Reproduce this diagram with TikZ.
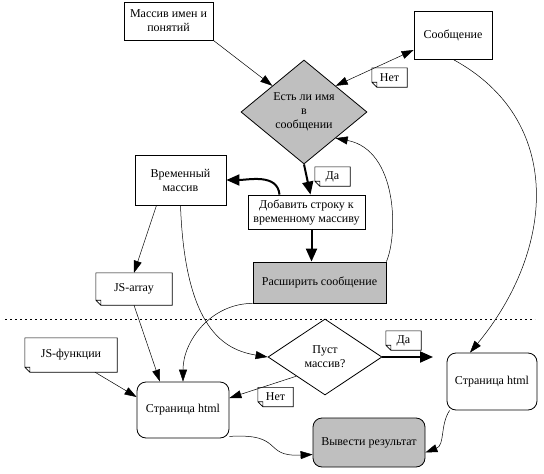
\documentclass[tikz,border=0pt]{standalone}
\usepackage{fontspec}
\setmainfont{Liberation Serif}
\newfontfamily\figserif{Liberation Serif}
\usetikzlibrary{arrows.meta, shapes.geometric, positioning}
\newcommand{\figfont}{\figserif\fontsize{12}{14}\selectfont}

\begin{document}
\begin{tikzpicture}[x=1pt, y=-1pt,
    box/.style={rectangle, draw, line width=0.8pt, fill=white, align=center, inner sep=2pt, font=\figfont},
    greybox/.style={box, fill=black!25},
    roundbox/.style={box, rounded corners=9pt},
    decision/.style={diamond, draw, line width=0.8pt, align=center, inner sep=0pt, font=\figfont},
    note/.style={rectangle, align=center, inner sep=1pt, font=\figfont, minimum width=35, minimum height=19},
    arrow/.style={-{Triangle[length=12pt, width=8pt]}, line width=0.5pt},
    dblarrow/.style={{Triangle[length=12pt, width=8pt]}-{Triangle[length=12pt, width=8pt]}, line width=0.5pt},
    thickarrow/.style={-{Triangle[length=13pt, width=11pt]}, line width=2pt}
]
    \useasboundingbox (0,0) rectangle (544,474);

    % upper part
    \node[box, minimum width=89, minimum height=38] (names) at (168.5,21) {Массив имен и\\понятий};
    \node[decision, fill=black!25, minimum width=126, minimum height=104] (hasname) at (304,112) {Есть ли имя\\в\\сообщении};
    \node[box, minimum width=78, minimum height=48] (msg) at (453,35) {Сообщение};
    \node[note] (no1) at (389.5,77.5) {Нет};
    \node[box, minimum width=91, minimum height=50] (tmp) at (180.5,180) {Временный\\массив};
    \node[note] (yes1) at (332.5,176.5) {Да};
    \node[box, minimum width=117, minimum height=34] (addrow) at (306.5,212) {Добавить строку к\\временному массиву};
    \node[greybox, minimum width=133, minimum height=41] (extend) at (319.5,282.5) {Расширить сообщение};
    \node[note, minimum width=76, minimum height=32] (jsarr) at (134,289) {JS-array};

    % lower part
    \coordinate (sepl) at (5,319);
    \coordinate (sepr) at (535,319);
    \draw[line width=0.6pt, dash pattern=on 2pt off 3pt] (sepl) -- (sepr);

    \node[note, minimum width=92, minimum height=34] (jsfun) at (71,355) {JS-функции};
    \node[roundbox, minimum width=92, minimum height=56] (page1) at (183,410) {Страница html};
    \node[decision, fill=white, minimum width=114, minimum height=76] (empty) at (325,357) {Пуст\\массив?};
    \node[note] (yes2) at (403.5,340.5) {Да};
    \node[note] (no2) at (275.5,397) {Нет};
    \node[roundbox, minimum width=90, minimum height=57] (page2) at (492,381.5) {Страница html};
    \node[roundbox, fill=black!25, minimum width=112, minimum height=49] (output) at (369,442.5) {Вывести результат};
    \coordinate (yesend) at (433,357);

    % folded notes
    \foreach \n in {no1, yes1, jsarr, jsfun, yes2, no2} {
        \draw[line width=0.6pt] ([yshift=5pt]\n.south west) -- (\n.north west) -- (\n.north east)
            -- (\n.south east) -- ([xshift=5pt]\n.south west) -- cycle
            ([yshift=5pt]\n.south west) -- ([shift={(5pt,5pt)}]\n.south west) -- ([xshift=5pt]\n.south west);
    }

    % connectors
    \draw[arrow] (names.south east) -- (hasname.north west);
    \draw[dblarrow] ([yshift=-15pt]msg.west) -- (hasname.north east);
    \draw[thickarrow] (hasname.south) -- ([xshift=4pt]addrow.north);
    \draw[thickarrow] ([xshift=-27pt]addrow.north) to[out=95, in=0] (tmp.east);
    \draw[thickarrow] ([xshift=5pt]addrow.south) -- ([xshift=5pt]addrow.south |- extend.north);
    \draw[arrow] (extend.north east) .. controls (398,235) and (398,150) .. (hasname.south east);
    \draw[arrow] ([xshift=-24pt]tmp.south) -- (jsarr.north);
    \draw[arrow] (tmp.south) .. controls (185,330) and (225,350) .. (empty.west);
    \draw[arrow] (jsarr.south) -- ([xshift=-23pt]page1.north);
    \draw[arrow] (extend.south west) to[out=180, in=90] (page1.north);
    \draw[arrow] ([xshift=24pt]jsfun.south) -- ([yshift=13pt]page1.west);
    \draw[arrow] (empty.south west) -- ([yshift=12pt]page1.east);
    \draw[thickarrow] (empty.east) -- (yesend);
    \draw[arrow] (msg.south) .. controls (565,120) and (555,250) .. ([xshift=-22pt]page2.north);
    \draw[arrow] ([yshift=2pt]page1.south east) .. controls (285,433) and (262,457) .. ([yshift=-12pt]output.west);
    \draw[arrow] ([xshift=3pt]page2.south west) .. controls (440,425) and (445,445) .. ([yshift=-10pt]output.east);
\end{tikzpicture}
\end{document}
